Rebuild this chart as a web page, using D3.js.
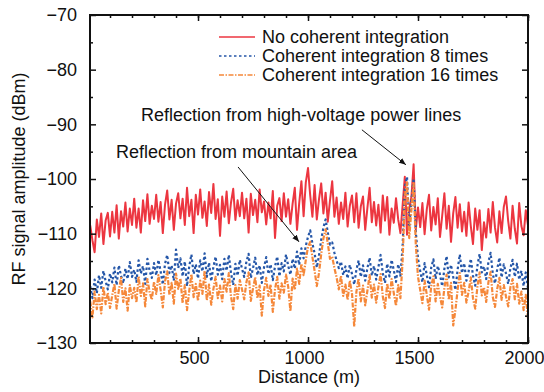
<!DOCTYPE html>
<html>
<head>
<meta charset="utf-8">
<script src="https://cdn.jsdelivr.net/npm/d3@7"></script>
<style>
  body { margin: 0; background: #fff; }
  svg text { font-family: "Liberation Sans", Arial, sans-serif; fill: #111; }
</style>
</head>
<body>
<div id="chart"></div>
<script>
// sampling grid (m)
const distance = d3.range(10, 2001, 10);

// No coherent integration (dBm)
const noIntegration = [
  -108.5, -111.2, -113.4, -107.4, -110.6, -106.3, -111.9, -107.6, -106.2, -110.5,
  -106.0, -109.8, -104.8, -110.9, -105.9, -108.7, -104.3, -109.6, -105.4, -108.4,
  -103.6, -108.9, -105.4, -109.8, -103.9, -107.7, -102.8, -108.2, -104.9, -107.3,
  -102.9, -107.8, -104.2, -109.9, -104.7, -102.1, -107.4, -103.8, -109.3, -104.5,
  -102.6, -107.2, -103.6, -108.4, -101.6, -106.8, -103.8, -109.9, -102.9, -106.5,
  -101.9, -107.1, -104.1, -108.6, -102.4, -106.2, -100.9, -107.3, -103.7, -110.4,
  -103.2, -106.9, -102.3, -108.1, -104.3, -101.8, -107.5, -103.9, -106.8, -102.5,
  -107.2, -103.6, -109.8, -102.7, -106.6, -103.8, -107.9, -101.9, -106.1, -104.1,
  -108.3, -104.3, -107.2, -102.2, -110.8, -104.9, -103.5, -107.7, -102.6, -106.9,
  -103.7, -108.2, -104.5, -101.6, -109.3, -104.4, -100.4, -106.8, -100.6, -98.0,
  -103.0, -106.9, -101.1, -107.4, -103.7, -100.8, -106.3, -102.5, -107.8, -103.9,
  -100.4, -106.9, -103.4, -108.2, -104.3, -107.3, -102.5, -108.7, -104.9, -103.0,
  -107.9, -102.6, -108.9, -105.0, -103.2, -109.3, -105.3, -101.6, -107.9, -104.2,
  -108.5, -104.7, -109.8, -103.0, -107.6, -103.3, -110.2, -105.4, -108.0, -103.5,
  -107.4, -109.9, -104.8, -99.6, -110.2, -105.5, -103.3, -97.3, -109.2, -105.2,
  -108.8, -104.4, -110.1, -105.5, -102.9, -109.4, -105.1, -108.3, -103.5, -110.6,
  -106.7, -102.6, -109.1, -104.9, -111.5, -106.3, -103.3, -108.9, -104.6, -109.6,
  -106.0, -110.4, -104.3, -108.6, -111.9, -105.4, -109.3, -105.7, -113.0, -107.9,
  -110.7, -105.5, -109.8, -104.2, -108.9, -111.6, -105.9, -109.9, -105.1, -103.2,
  -107.7, -110.9, -104.9, -109.1, -111.8, -104.4, -108.6, -110.3, -105.7, -108.5
];

// Coherent integration 8 times (dBm)
const integration8 = [
  -119.6, -121.8, -118.4, -120.9, -117.6, -119.9, -116.8, -118.7, -120.2, -117.3,
  -118.9, -116.2, -119.4, -115.8, -117.7, -119.1, -116.4, -118.3, -115.2, -117.9,
  -116.6, -118.8, -114.9, -117.3, -115.9, -119.2, -114.6, -116.8, -118.1, -115.4,
  -117.6, -114.8, -116.9, -119.3, -115.5, -113.9, -117.2, -115.8, -118.6, -112.9,
  -116.3, -114.5, -117.8, -115.1, -119.6, -116.0, -113.8, -117.4, -115.6, -118.2,
  -114.9, -116.9, -113.6, -117.9, -115.3, -118.7, -116.1, -114.2, -117.5, -115.7,
  -118.3, -114.6, -116.8, -113.9, -117.2, -119.4, -115.5, -117.7, -114.8, -116.4,
  -117.9, -115.1, -113.7, -118.1, -116.3, -114.4, -117.6, -115.8, -119.0, -116.2,
  -114.3, -117.4, -115.6, -118.5, -116.0, -114.2, -117.8, -115.4, -116.9, -113.8,
  -115.9, -117.5, -114.6, -116.4, -113.3, -115.7, -112.7, -114.5, -112.2, -110.6,
  -109.4, -111.8, -113.6, -116.2, -114.0, -111.1, -108.9, -107.4, -109.8, -112.0,
  -111.6, -113.5, -114.9, -116.3, -115.1, -117.6, -116.0, -118.2, -115.7, -117.4,
  -119.3, -116.6, -114.9, -117.9, -115.8, -118.6, -116.3, -114.4, -117.7, -115.9,
  -118.4, -116.1, -113.9, -117.3, -119.0, -115.5, -117.8, -114.8, -116.7, -118.8,
  -115.6, -117.7, -112.4, -101.5, -99.6, -108.8, -104.2, -99.9, -109.6, -114.6,
  -116.8, -118.9, -115.4, -117.6, -119.8, -116.2, -114.7, -118.3, -115.9, -117.5,
  -119.6, -116.4, -114.1, -118.0, -115.7, -117.9, -120.3, -116.6, -113.8, -117.2,
  -115.4, -118.6, -116.9, -114.6, -117.7, -119.5, -115.9, -113.7, -117.1, -116.0,
  -118.3, -115.2, -113.5, -117.4, -119.1, -116.5, -114.4, -118.0, -115.6, -117.3,
  -119.2, -116.3, -114.8, -117.9, -115.5, -118.4, -116.8, -119.6, -117.1, -120.0
];

// Coherent integration 16 times (dBm)
const integration16 = [
  -122.4, -125.3, -120.6, -123.8, -121.2, -124.6, -119.7, -122.9, -120.8, -123.6,
  -121.3, -119.2, -123.7, -120.4, -118.1, -122.5, -120.0, -124.1, -119.4, -121.8,
  -119.9, -122.6, -117.8, -121.4, -119.1, -123.3, -118.3, -120.7, -122.1, -118.8,
  -121.0, -117.6, -120.3, -123.5, -118.7, -116.9, -121.2, -119.0, -122.8, -117.3,
  -120.1, -118.2, -122.7, -119.4, -124.0, -120.5, -117.4, -121.6, -119.2, -122.3,
  -118.6, -121.0, -116.8, -122.2, -119.3, -123.0, -120.1, -117.9, -121.8, -119.5,
  -122.4, -118.3, -120.6, -117.2, -121.5, -123.8, -119.4, -121.9, -118.5, -120.2,
  -122.0, -118.9, -117.1, -122.3, -120.0, -118.0, -121.8, -119.5, -125.0, -120.3,
  -118.1, -121.4, -119.3, -124.3, -120.2, -117.9, -121.9, -119.1, -120.8, -117.5,
  -119.7, -124.2, -118.2, -120.3, -116.4, -119.2, -115.5, -117.6, -114.8, -112.4,
  -111.5, -114.3, -116.8, -119.6, -117.2, -113.7, -110.9, -109.2, -111.8, -114.6,
  -114.2, -116.3, -118.0, -120.2, -117.7, -121.4, -119.3, -122.1, -118.6, -121.0,
  -127.0, -120.6, -118.2, -122.4, -119.5, -123.1, -120.4, -117.6, -121.7, -119.3,
  -122.6, -119.8, -117.4, -121.5, -123.6, -119.1, -122.0, -118.3, -120.9, -123.2,
  -119.4, -121.8, -114.9, -103.2, -100.6, -110.8, -105.7, -100.8, -112.0, -117.9,
  -120.3, -122.7, -118.6, -121.2, -123.9, -119.6, -117.8, -122.4, -119.2, -121.5,
  -123.5, -119.9, -117.5, -122.1, -119.0, -126.8, -124.0, -120.3, -117.2, -121.2,
  -119.0, -122.6, -120.6, -118.0, -121.8, -123.7, -119.7, -117.1, -121.3, -119.8,
  -122.5, -118.9, -117.0, -121.6, -123.4, -120.1, -118.1, -122.1, -119.4, -121.5,
  -123.3, -119.8, -118.3, -122.0, -119.2, -122.8, -120.6, -124.0, -121.2, -125.6
];

const seriesNames = ['No coherent integration', 'Coherent integration 8 times', 'Coherent integration 16 times'];
const xTicks = [500, 1000, 1500, 2000];
const yTicks = [-130, -120, -110, -100, -90, -80, -70];

const margin = { top: 15, right: 16, bottom: 49, left: 90 };
const width = 544 - margin.left - margin.right;
const height = 392 - margin.top - margin.bottom;

const svg = d3.select('#chart').append('svg')
  .attr('width', 544)
  .attr('height', 392);

const g = svg.append('g')
  .attr('transform', 'translate(' + margin.left + ',' + margin.top + ')');

const x = d3.scaleLinear().domain([9, 2000]).range([0, width]);
const y = d3.scaleLinear().domain([-130, -70]).range([height, 0]);

g.append('clipPath').attr('id', 'clip')
  .append('rect').attr('width', width).attr('height', height);

const series = [
  { values: noIntegration, color: '#ec3640', dash: null, w: 2 },
  { values: integration8, color: '#2456a8', dash: '2.5,2.5', w: 2.2 },
  { values: integration16, color: '#f5883a', dash: '5,1.5,1.5,1.5', w: 2.2 }
];

const line = d3.line()
  .x((d, i) => x(distance[i]))
  .y(d => y(d));

series.forEach(s => {
  g.append('path')
    .attr('clip-path', 'url(#clip)')
    .attr('fill', 'none')
    .attr('stroke', s.color)
    .attr('stroke-width', s.w)
    .attr('stroke-dasharray', s.dash)
    .attr('stroke-linejoin', 'round')
    .attr('d', line(s.values));
});

// axes, ticks pointing inward on all four sides
const xMinor = d3.range(100, 2001, 100);
const yMinor = d3.range(-125, -70, 10);

function styleAxis(sel) {
  sel.select('.domain').remove();
  sel.selectAll('line').attr('stroke', '#111').attr('stroke-width', 1.5);
  sel.selectAll('text').attr('font-size', '18px').attr('fill', '#111');
}

g.append('g').attr('transform', 'translate(0,' + height + ')')
  .call(d3.axisBottom(x).tickValues(xTicks).tickSize(-6).tickPadding(9).tickFormat(d3.format('d')))
  .call(styleAxis)
  .selectAll('text').attr('dy', '0.65em').attr('dx', -4);
g.append('g').attr('transform', 'translate(0,' + height + ')')
  .call(d3.axisBottom(x).tickValues(xMinor).tickSize(-3).tickFormat(''))
  .call(styleAxis);
g.append('g')
  .call(d3.axisTop(x).tickValues(xTicks).tickSize(-6).tickFormat(''))
  .call(styleAxis);
g.append('g')
  .call(d3.axisTop(x).tickValues(xMinor).tickSize(-3).tickFormat(''))
  .call(styleAxis);

g.append('g')
  .call(d3.axisLeft(y).tickValues(yTicks).tickSize(-6).tickPadding(13))
  .call(styleAxis);
g.append('g')
  .call(d3.axisLeft(y).tickValues(yMinor).tickSize(-3).tickFormat(''))
  .call(styleAxis);
g.append('g').attr('transform', 'translate(' + width + ',0)')
  .call(d3.axisRight(y).tickValues(yTicks).tickSize(-6).tickFormat(''))
  .call(styleAxis);
g.append('g').attr('transform', 'translate(' + width + ',0)')
  .call(d3.axisRight(y).tickValues(yMinor).tickSize(-3).tickFormat(''))
  .call(styleAxis);

g.append('rect')
  .attr('width', width).attr('height', height)
  .attr('fill', 'none').attr('stroke', '#111').attr('stroke-width', 2);

// axis titles
svg.append('text')
  .attr('x', margin.left + width / 2).attr('y', 383)
  .attr('text-anchor', 'middle').attr('font-size', '18px')
  .text('Distance (m)');
svg.append('text')
  .attr('transform', 'translate(25,' + (margin.top + height / 2) + ') rotate(-90)')
  .attr('text-anchor', 'middle').attr('font-size', '18px')
  .text('RF signal amplitude (dBm)');

// legend
const legend = g.append('g').attr('transform', 'translate(129,28)');
series.forEach((s, i) => {
  const row = legend.append('g').attr('transform', 'translate(0,' + i * 19 + ')');
  row.append('line')
    .attr('x1', 0).attr('x2', 36).attr('y1', -6).attr('y2', -6)
    .attr('stroke', s.color).attr('stroke-width', 1.6)
    .attr('stroke-dasharray', s.dash);
  row.append('text').attr('x', 43).attr('y', 0)
    .attr('font-size', '18px').text(seriesNames[i]);
});

// annotations
svg.append('defs').append('marker')
  .attr('id', 'arrow').attr('viewBox', '0 0 10 10')
  .attr('refX', 10).attr('refY', 5)
  .attr('markerWidth', 7).attr('markerHeight', 7)
  .attr('orient', 'auto')
  .append('path').attr('d', 'M0,1 L10,5 L0,9 z').attr('fill', '#111');

const notes = [
  { text: 'Reflection from high-voltage power lines', tx: 241, ty: -89.4, from: [1245, -91.0], to: [1445, -97.4] },
  { text: 'Reflection from mountain area', tx: 127, ty: -96.1, from: [682, -97.8], to: [959, -111.5] }
];
notes.forEach(n => {
  g.append('text').attr('x', x(n.tx)).attr('y', y(n.ty))
    .attr('font-size', '18px').text(n.text);
  g.append('line')
    .attr('x1', x(n.from[0])).attr('y1', y(n.from[1]))
    .attr('x2', x(n.to[0])).attr('y2', y(n.to[1]))
    .attr('stroke', '#111').attr('stroke-width', 1)
    .attr('marker-end', 'url(#arrow)');
});
</script>
</body>
</html>
